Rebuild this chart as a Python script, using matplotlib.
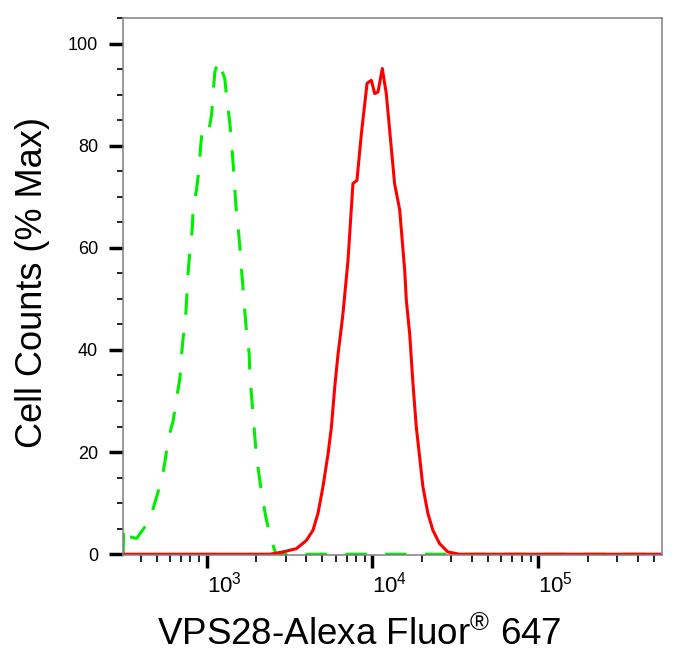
"""
Flow cytometry histogram: VPS28-Alexa Fluor 647 vs. isotype control.
"""

import matplotlib
matplotlib.use('Agg')
import matplotlib.pyplot as plt
from matplotlib.ticker import MultipleLocator, LogLocator, NullFormatter
import numpy as np

plt.rcParams['font.family'] = ['Liberation Sans', 'DejaVu Sans']
plt.rcParams['mathtext.fontset'] = 'custom'
plt.rcParams['mathtext.rm'] = 'Liberation Sans'
plt.rcParams['mathtext.it'] = 'Liberation Sans:italic'
plt.rcParams['mathtext.bf'] = 'Liberation Sans:bold'

# Data (log10 of fluorescence, % of max)
control_log = [2.497, 2.500, 2.508, 2.538, 2.578, 2.658, 2.689, 2.729, 2.749, 2.769,
               2.799, 2.819, 2.839, 2.849, 2.859, 2.875, 2.889, 2.899, 2.913, 2.919,
               2.940, 2.955, 2.964, 2.976, 3.004, 3.016, 3.030, 3.040, 3.050, 3.070,
               3.110, 3.124, 3.140, 3.151, 3.160, 3.177, 3.190, 3.201, 3.211, 3.221,
               3.231, 3.241, 3.257, 3.261, 3.271, 3.281, 3.291, 3.301, 3.321, 3.337,
               3.361, 3.392, 3.418, 4.0, 5.0, 5.75]
control_pct = [0, 5.2, 5.4, 3.4, 3.1, 6.7, 10.2, 14.5, 18.1, 22.6,
               26.2, 30.5, 34.4, 39.0, 42.5, 47.1, 55.3, 59.2, 63.4, 67.4,
               71.6, 75.5, 79.8, 83.7, 84.0, 83.4, 86.0, 90.5, 94.4, 96.7,
               93.1, 88.6, 84.6, 80.4, 76.5, 68.3, 64.1, 60.2, 55.6, 51.7,
               47.4, 43.5, 39.3, 35.4, 31.1, 27.2, 23.0, 19.1, 14.5, 10.9,
               6.7, 2.7, 0, 0, 0, 0]

vps28_log = [2.496, 3.381, 3.461, 3.542, 3.602, 3.642, 3.672, 3.702, 3.733, 3.753,
             3.773, 3.793, 3.813, 3.823, 3.853, 3.883, 3.907, 3.934, 3.968, 3.994,
             4.014, 4.034, 4.060, 4.084, 4.134, 4.165, 4.195, 4.205, 4.225, 4.245,
             4.265, 4.285, 4.305, 4.335, 4.365, 4.405, 4.455, 4.526, 5.0, 5.75]
vps28_pct = [0, 0, 0.45, 1.1, 2.7, 4.7, 8.0, 13.2, 19.7, 24.9,
             32.7, 39.2, 44.4, 47.2, 57.5, 72.6, 73.2, 82.4, 92.2, 92.8,
             90.2, 90.5, 95.1, 90.2, 72.6, 67.4, 55.6, 49.7, 43.2, 33.4,
             24.9, 19.1, 13.2, 8.0, 4.7, 2.1, 0.45, 0, 0, 0]

x_major = [1e3, 1e4, 1e5]
x_labels = [r'$10^{3}$', r'$10^{4}$', r'$10^{5}$']
y_major = [0, 20, 40, 60, 80, 100]

fig = plt.figure(figsize=(6.89, 6.57), dpi=100)
ax = fig.add_axes([123 / 689, 1 - 555 / 657, (662 - 123) / 689, (555 - 18) / 657])

ax.plot(10 ** np.array(control_log), control_pct, color='#00ee00', lw=2.2,
        linestyle=(0, (7, 6)))
ax.plot(10 ** np.array(vps28_log), vps28_pct, color='#ff0000', lw=2.2)

ax.set_xscale('log')
ax.set_xlim(10 ** 2.496, 10 ** 5.747)
ax.set_ylim(-0.15, 105)

ax.set_xticks(x_major)
ax.xaxis.set_minor_locator(LogLocator(base=10, subs=np.arange(2, 10)))
ax.xaxis.set_minor_formatter(NullFormatter())

ax.set_yticks(y_major)
ax.yaxis.set_minor_locator(MultipleLocator(5))

ax.tick_params(axis='y', which='major', length=10, width=2.5, pad=8, labelsize=13)
ax.tick_params(axis='y', which='minor', length=4.5, width=1.2)
ax.tick_params(axis='x', which='major', length=9, width=2.5, pad=3)
ax.tick_params(axis='x', which='minor', length=5, width=1.2)
ax.set_xticklabels(x_labels, fontsize=16, ha='left')

for side in ['left', 'right', 'top', 'bottom']:
    ax.spines[side].set_color('#808080')
    ax.spines[side].set_linewidth(1.1)

fig.text(359 / 689, 1 - 645 / 657, 'VPS28-Alexa Fluor$^{\\mathrm{®}}$ 647',
         ha='center', va='baseline', fontsize=26.5)
fig.text(42 / 689, 1 - 283 / 657, 'Cell Counts (% Max)', rotation=90,
         rotation_mode='anchor', ha='center', va='baseline', fontsize=26)

fig.savefig('out.png', dpi=100)
